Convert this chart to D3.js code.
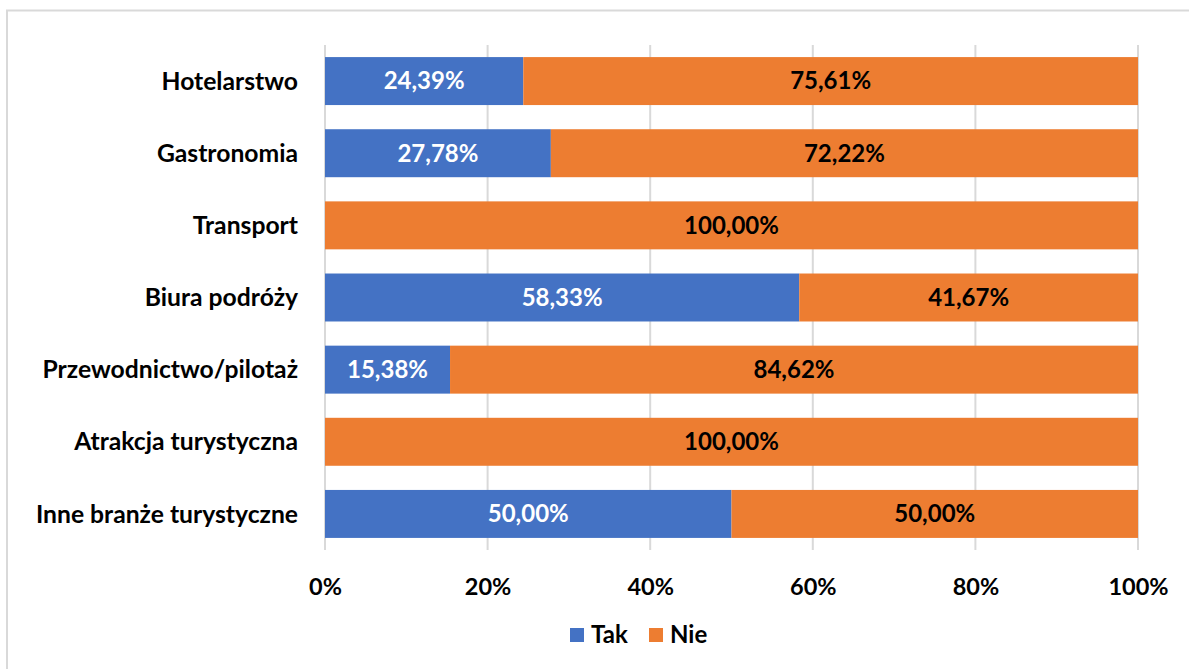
<!DOCTYPE html>
<html>
<head>
<meta charset="utf-8">
<script src="https://cdn.jsdelivr.net/npm/d3@7"></script>
<style>
  html, body { margin: 0; padding: 0; background: #fff; }
  svg text { font-family: Lato, "Open Sans", sans-serif; font-weight: 700; }
</style>
</head>
<body>
<svg id="chart" width="1189" height="669"></svg>
<script>
// Share of respondents per tourism sector (stacked to 100%)
const categories = [
  "Hotelarstwo",
  "Gastronomia",
  "Transport",
  "Biura podróży",
  "Przewodnictwo/pilotaż",
  "Atrakcja turystyczna",
  "Inne branże turystyczne"
];
const takValues = [24.39, 27.78, 0, 58.33, 15.38, 0, 50.00];
const nieValues = [75.61, 72.22, 100.00, 41.67, 84.62, 100.00, 50.00];
const seriesNames = ["Tak", "Nie"];
const seriesColors = ["#4472c4", "#ed7d31"];
const tickValues = [0, 20, 40, 60, 80, 100];

const svg = d3.select("#chart");
const W = 1189, H = 669;
const FS = 24;

// outer frame
svg.append("rect")
  .attr("x", 7).attr("y", 10.5)
  .attr("width", W + 20).attr("height", H + 20)
  .attr("fill", "none").attr("stroke", "#d9d9d9").attr("stroke-width", 2);

const plot = { left: 325, right: 1138, top: 45, bottom: 550 };

const x = d3.scaleLinear().domain([0, 100]).range([plot.left, plot.right]);
const y = d3.scaleBand().domain(categories)
  .range([plot.top, plot.bottom])
  .paddingInner(0.335).paddingOuter(0.1675);

// vertical gridlines
svg.append("g").selectAll("line")
  .data(tickValues).join("line")
  .attr("x1", d => x(d)).attr("x2", d => x(d))
  .attr("y1", plot.top).attr("y2", plot.bottom)
  .attr("stroke", "#d9d9d9").attr("stroke-width", 2);

// stacked data
const rows = categories.map((c, i) => ({ cat: c, Tak: takValues[i], Nie: nieValues[i] }));
const stack = d3.stack().keys(seriesNames)(rows);

const fmt = v => v.toFixed(2).replace(".", ",") + "%";

stack.forEach((layer, li) => {
  const g = svg.append("g");
  g.selectAll("rect")
    .data(layer.filter(d => d[1] - d[0] > 0)).join("rect")
    .attr("x", d => x(d[0]))
    .attr("y", d => y(d.data.cat))
    .attr("width", d => x(d[1]) - x(d[0]))
    .attr("height", y.bandwidth())
    .attr("fill", seriesColors[li]);
  g.selectAll("text")
    .data(layer.filter(d => d[1] - d[0] > 0)).join("text")
    .attr("x", d => (x(d[0]) + x(d[1])) / 2)
    .attr("y", d => y(d.data.cat) + y.bandwidth() / 2)
    .attr("dy", "0.35em")
    .attr("text-anchor", "middle")
    .attr("font-size", FS)
    .attr("fill", li === 0 ? "#ffffff" : "#000000")
    .text(d => fmt(d[1] - d[0]));
});

// category labels
svg.append("g").selectAll("text")
  .data(categories).join("text")
  .attr("x", 298)
  .attr("y", d => y(d) + y.bandwidth() / 2)
  .attr("dy", "0.35em")
  .attr("text-anchor", "end")
  .attr("font-size", 24.7)
  .attr("fill", "#000")
  .text(d => d);

// x-axis tick labels
const xAxis = d3.axisBottom(x).tickValues(tickValues).tickSize(0).tickPadding(0)
  .tickFormat(d => d + "%");
const ax = svg.append("g").attr("transform", `translate(0, 578)`).call(xAxis);
ax.select(".domain").remove();
ax.selectAll("text")
  .attr("font-size", 23.5)
  .attr("fill", "#000")
  .attr("font-family", "Lato, 'Open Sans', sans-serif")
  .attr("font-weight", 700);

// legend
const legend = svg.append("g");
const legendX = [570, 649];
seriesNames.forEach((name, i) => {
  legend.append("rect")
    .attr("x", legendX[i]).attr("y", 628)
    .attr("width", 14).attr("height", 14)
    .attr("fill", seriesColors[i]);
  legend.append("text")
    .attr("x", legendX[i] + 21).attr("y", 635)
    .attr("dy", "0.35em")
    .attr("font-size", FS)
    .attr("fill", "#000")
    .text(name);
});
</script>
</body>
</html>
